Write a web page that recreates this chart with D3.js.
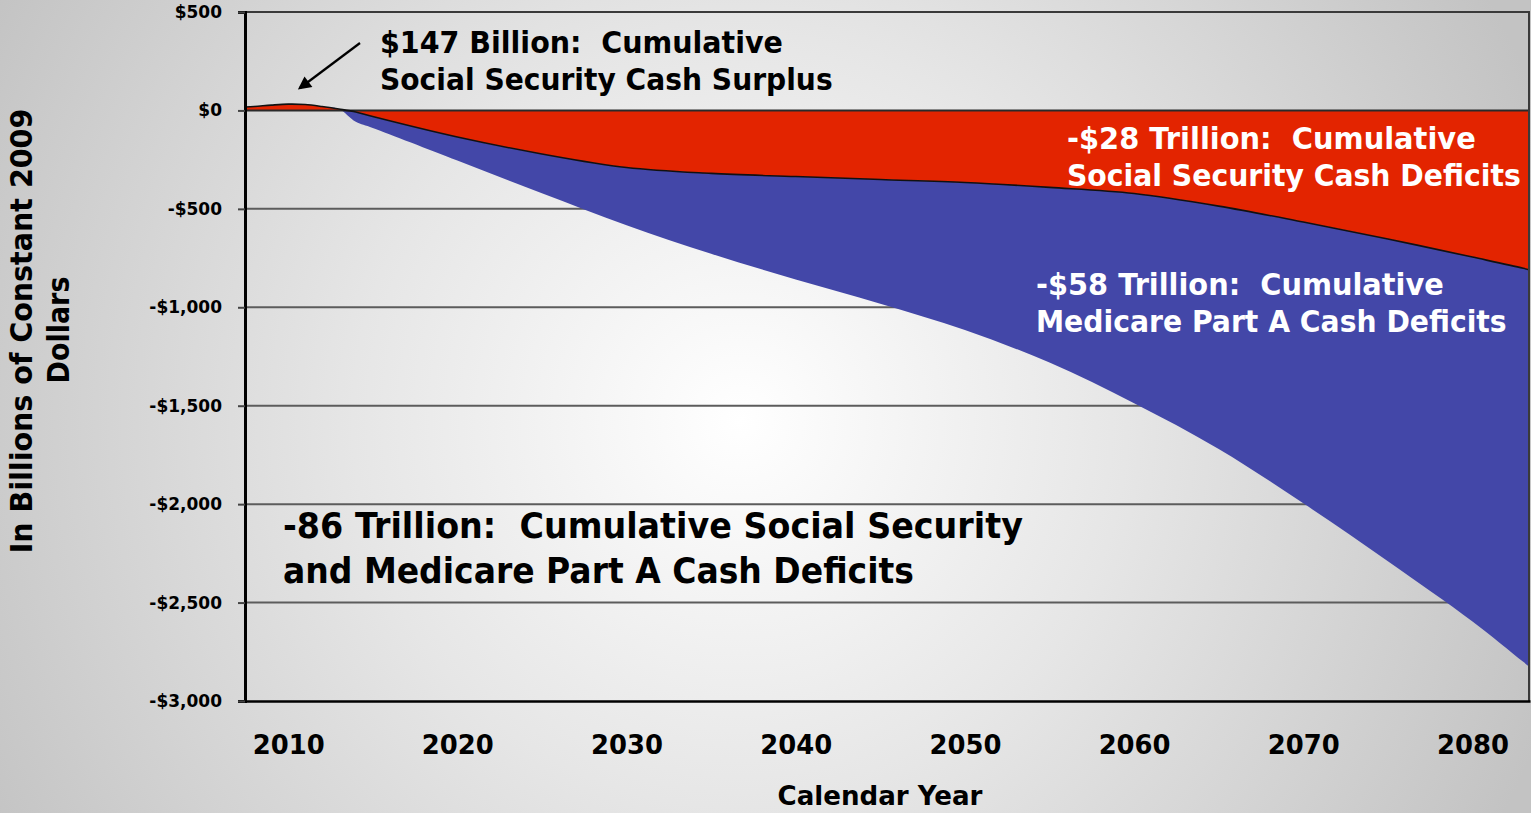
<!DOCTYPE html>
<html>
<head>
<meta charset="utf-8">
<script src="https://cdn.jsdelivr.net/npm/d3@7"></script>
<style>
  html, body { margin: 0; padding: 0; background: #c8c8c8; }
  svg { display: block; }
  text { font-family: "DejaVu Sans", Verdana, sans-serif; font-weight: bold; white-space: pre; }
</style>
</head>
<body>
<svg id="chart" width="1531" height="813"></svg>
<script>
// Projected annual cash flow, billions of constant 2009 dollars
const years = [2007, 2008, 2009, 2010, 2011, 2012, 2013, 2014, 2015,
               2020, 2025, 2030, 2035, 2040, 2045, 2050, 2055, 2060,
               2065, 2070, 2075, 2080, 2083, 2084];
const socialSecurity = [15, 20, 27, 32, 30, 20, 7, -8, -31,
                        -135, -221, -290, -320, -336, -351, -366, -391, -422,
                        -486, -567, -653, -745, -802, -825];
const medicarePartA = [0, 0, 0, 0, 0, 0, 0, -50, -58,
                       -119, -200, -293, -408, -523, -631, -750, -890, -1066,
                       -1234, -1429, -1637, -1851, -1999, -2045];

const yTicks = [500, 0, -500, -1000, -1500, -2000, -2500, -3000];
const xTicks = [2010, 2020, 2030, 2040, 2050, 2060, 2070, 2080];

const rows = years.map((yr, i) => ({
  year: yr,
  ss: socialSecurity[i],
  total: socialSecurity[i] + medicarePartA[i]
}));

const W = 1531, H = 813;
const plot = { left: 245, right: 1530, top: 12, bottom: 701 };
const FONT = "'DejaVu Sans', Verdana, sans-serif";

const svg = d3.select("#chart");
const defs = svg.append("defs");

// soft radial backdrop
const grad = defs.append("radialGradient")
  .attr("id", "bg").attr("gradientUnits", "userSpaceOnUse")
  .attr("cx", 740).attr("cy", 420).attr("r", 860);
grad.append("stop").attr("offset", 0).attr("stop-color", "#ffffff");
grad.append("stop").attr("offset", 0.45).attr("stop-color", "#e6e6e6");
grad.append("stop").attr("offset", 1).attr("stop-color", "#c3c3c3");

defs.append("clipPath").attr("id", "plotClip")
  .append("rect")
  .attr("x", plot.left).attr("y", plot.top)
  .attr("width", plot.right - plot.left).attr("height", plot.bottom - plot.top);

const arrowMarker = defs.append("marker")
  .attr("id", "arrowHead").attr("viewBox", "0 0 10 10")
  .attr("refX", 8).attr("refY", 5)
  .attr("markerWidth", 6.5).attr("markerHeight", 6)
  .attr("markerUnits", "strokeWidth")
  .attr("orient", "auto");
arrowMarker.append("path").attr("d", "M0,0 L10,5 L0,10 Z").attr("fill", "#000");

svg.append("rect").attr("width", W).attr("height", H).attr("fill", "url(#bg)");

const x = d3.scaleLinear().domain([2007.45, 2083.4]).range([plot.left, plot.right]);
const y = d3.scaleLinear().domain([-3000, 500]).range([plot.bottom, plot.top]);

// horizontal gridlines
svg.append("g").selectAll("line")
  .data(yTicks.filter(v => v !== 500 && v !== -3000 && v !== 0))
  .join("line")
  .attr("x1", plot.left).attr("x2", plot.right)
  .attr("y1", d => y(d)).attr("y2", d => y(d))
  .attr("stroke", "#5c5c5c").attr("stroke-width", 2);

// stacked areas
const g = svg.append("g").attr("clip-path", "url(#plotClip)");
const curve = d3.curveCatmullRom.alpha(0.5);

g.append("path").datum(rows)
  .attr("fill", "#4347a8")
  .attr("d", d3.area().curve(curve)
    .x(d => x(d.year)).y0(d => y(d.ss)).y1(d => y(d.total)));

g.append("path").datum(rows)
  .attr("fill", "#e32400")
  .attr("d", d3.area().curve(curve)
    .x(d => x(d.year)).y0(y(0)).y1(d => y(d.ss)));

g.append("line")
  .attr("x1", plot.left).attr("x2", plot.right)
  .attr("y1", y(0)).attr("y2", y(0))
  .attr("stroke", "#2a2a2a").attr("stroke-width", 2);

g.append("path").datum(rows)
  .attr("fill", "none").attr("stroke", "#111").attr("stroke-width", 1.6)
  .attr("d", d3.line().curve(curve).x(d => x(d.year)).y(d => y(d.ss)));

// frame
svg.append("line").attr("x1", plot.left).attr("x2", plot.right)
  .attr("y1", plot.top).attr("y2", plot.top)
  .attr("stroke", "#3a3a3a").attr("stroke-width", 2);
svg.append("line").attr("x1", plot.right - 1).attr("x2", plot.right - 1)
  .attr("y1", plot.top).attr("y2", plot.bottom)
  .attr("stroke", "#3a3a3a").attr("stroke-width", 2);

// y axis
const yAxis = svg.append("g").attr("transform", `translate(${plot.left},0)`)
  .call(d3.axisLeft(y).tickValues(yTicks).tickSize(7).tickPadding(16)
    .tickFormat(d => (d < 0 ? "-$" : "$") + d3.format(",")(Math.abs(d))));
yAxis.select(".domain").attr("stroke", "#000").attr("stroke-width", 3);
yAxis.selectAll(".tick line").attr("stroke", "#444").attr("stroke-width", 2);
yAxis.selectAll(".tick text")
  .attr("fill", "#000").attr("font-size", 17)
  .style("font-family", FONT).style("font-weight", "bold");

// x axis
const xAxis = svg.append("g").attr("transform", `translate(0,${plot.bottom})`)
  .call(d3.axisBottom(x).tickValues(xTicks).tickSize(0).tickPadding(34)
    .tickFormat(d3.format("d")));
xAxis.select(".domain").attr("stroke", "#000").attr("stroke-width", 2.5);
xAxis.selectAll(".tick text")
  .attr("fill", "#000").attr("font-size", 27)
  .style("font-family", FONT).style("font-weight", "bold");

// text squeezed horizontally to a given width (narrow bold face)
function fitText(sel, cx, cy, width, anchor, rotate) {
  const natural = sel.node().getComputedTextLength();
  const sx = width / natural;
  sel.attr("text-anchor", anchor)
    .attr("x", 0).attr("y", 0)
    .attr("transform", `translate(${cx},${cy})${rotate ? " rotate(" + rotate + ")" : ""} scale(${sx},1)`);
  return sel;
}

// narrow the x tick labels a little
xAxis.selectAll(".tick text").each(function () {
  const t = d3.select(this);
  const natural = this.getComputedTextLength();
  t.attr("transform", `scale(${72 / natural},1)`);
});

// axis titles
fitText(svg.append("text").attr("font-size", 27).text("Calendar Year"),
  880, 805, 205, "middle");
fitText(svg.append("text").attr("font-size", 30).text("In Billions of Constant 2009"),
  32, 331, 445, "middle", -90);
fitText(svg.append("text").attr("font-size", 30).text("Dollars"),
  69, 330, 107, "middle", -90);

// annotations
const notes = [
  { x: 380, y: 53, size: 30, w: 403, color: "#000", text: "$147 Billion:  Cumulative" },
  { x: 380, y: 90, size: 30, w: 453, color: "#000", text: "Social Security Cash Surplus" },
  { x: 1067, y: 149, size: 30, w: 409, color: "#fff", text: "-$28 Trillion:  Cumulative" },
  { x: 1067, y: 186, size: 30, w: 454, color: "#fff", text: "Social Security Cash Deficits" },
  { x: 1036, y: 295, size: 30, w: 408, color: "#fff", text: "-$58 Trillion:  Cumulative" },
  { x: 1036, y: 332, size: 30, w: 471, color: "#fff", text: "Medicare Part A Cash Deficits" },
  { x: 283, y: 538, size: 35, w: 740, color: "#000", text: "-86 Trillion:  Cumulative Social Security" },
  { x: 283, y: 583, size: 35, w: 631, color: "#000", text: "and Medicare Part A Cash Deficits" }
];
const noteG = svg.append("g");
notes.forEach(n => {
  const t = noteG.append("text").attr("font-size", n.size).attr("fill", n.color).text(n.text);
  fitText(t, n.x, n.y, n.w, "start");
});

// pointer to the early surplus
svg.append("line")
  .attr("x1", 360).attr("y1", 43).attr("x2", 300).attr("y2", 88)
  .attr("stroke", "#000").attr("stroke-width", 2.2)
  .attr("marker-end", "url(#arrowHead)");
</script>
</body>
</html>
